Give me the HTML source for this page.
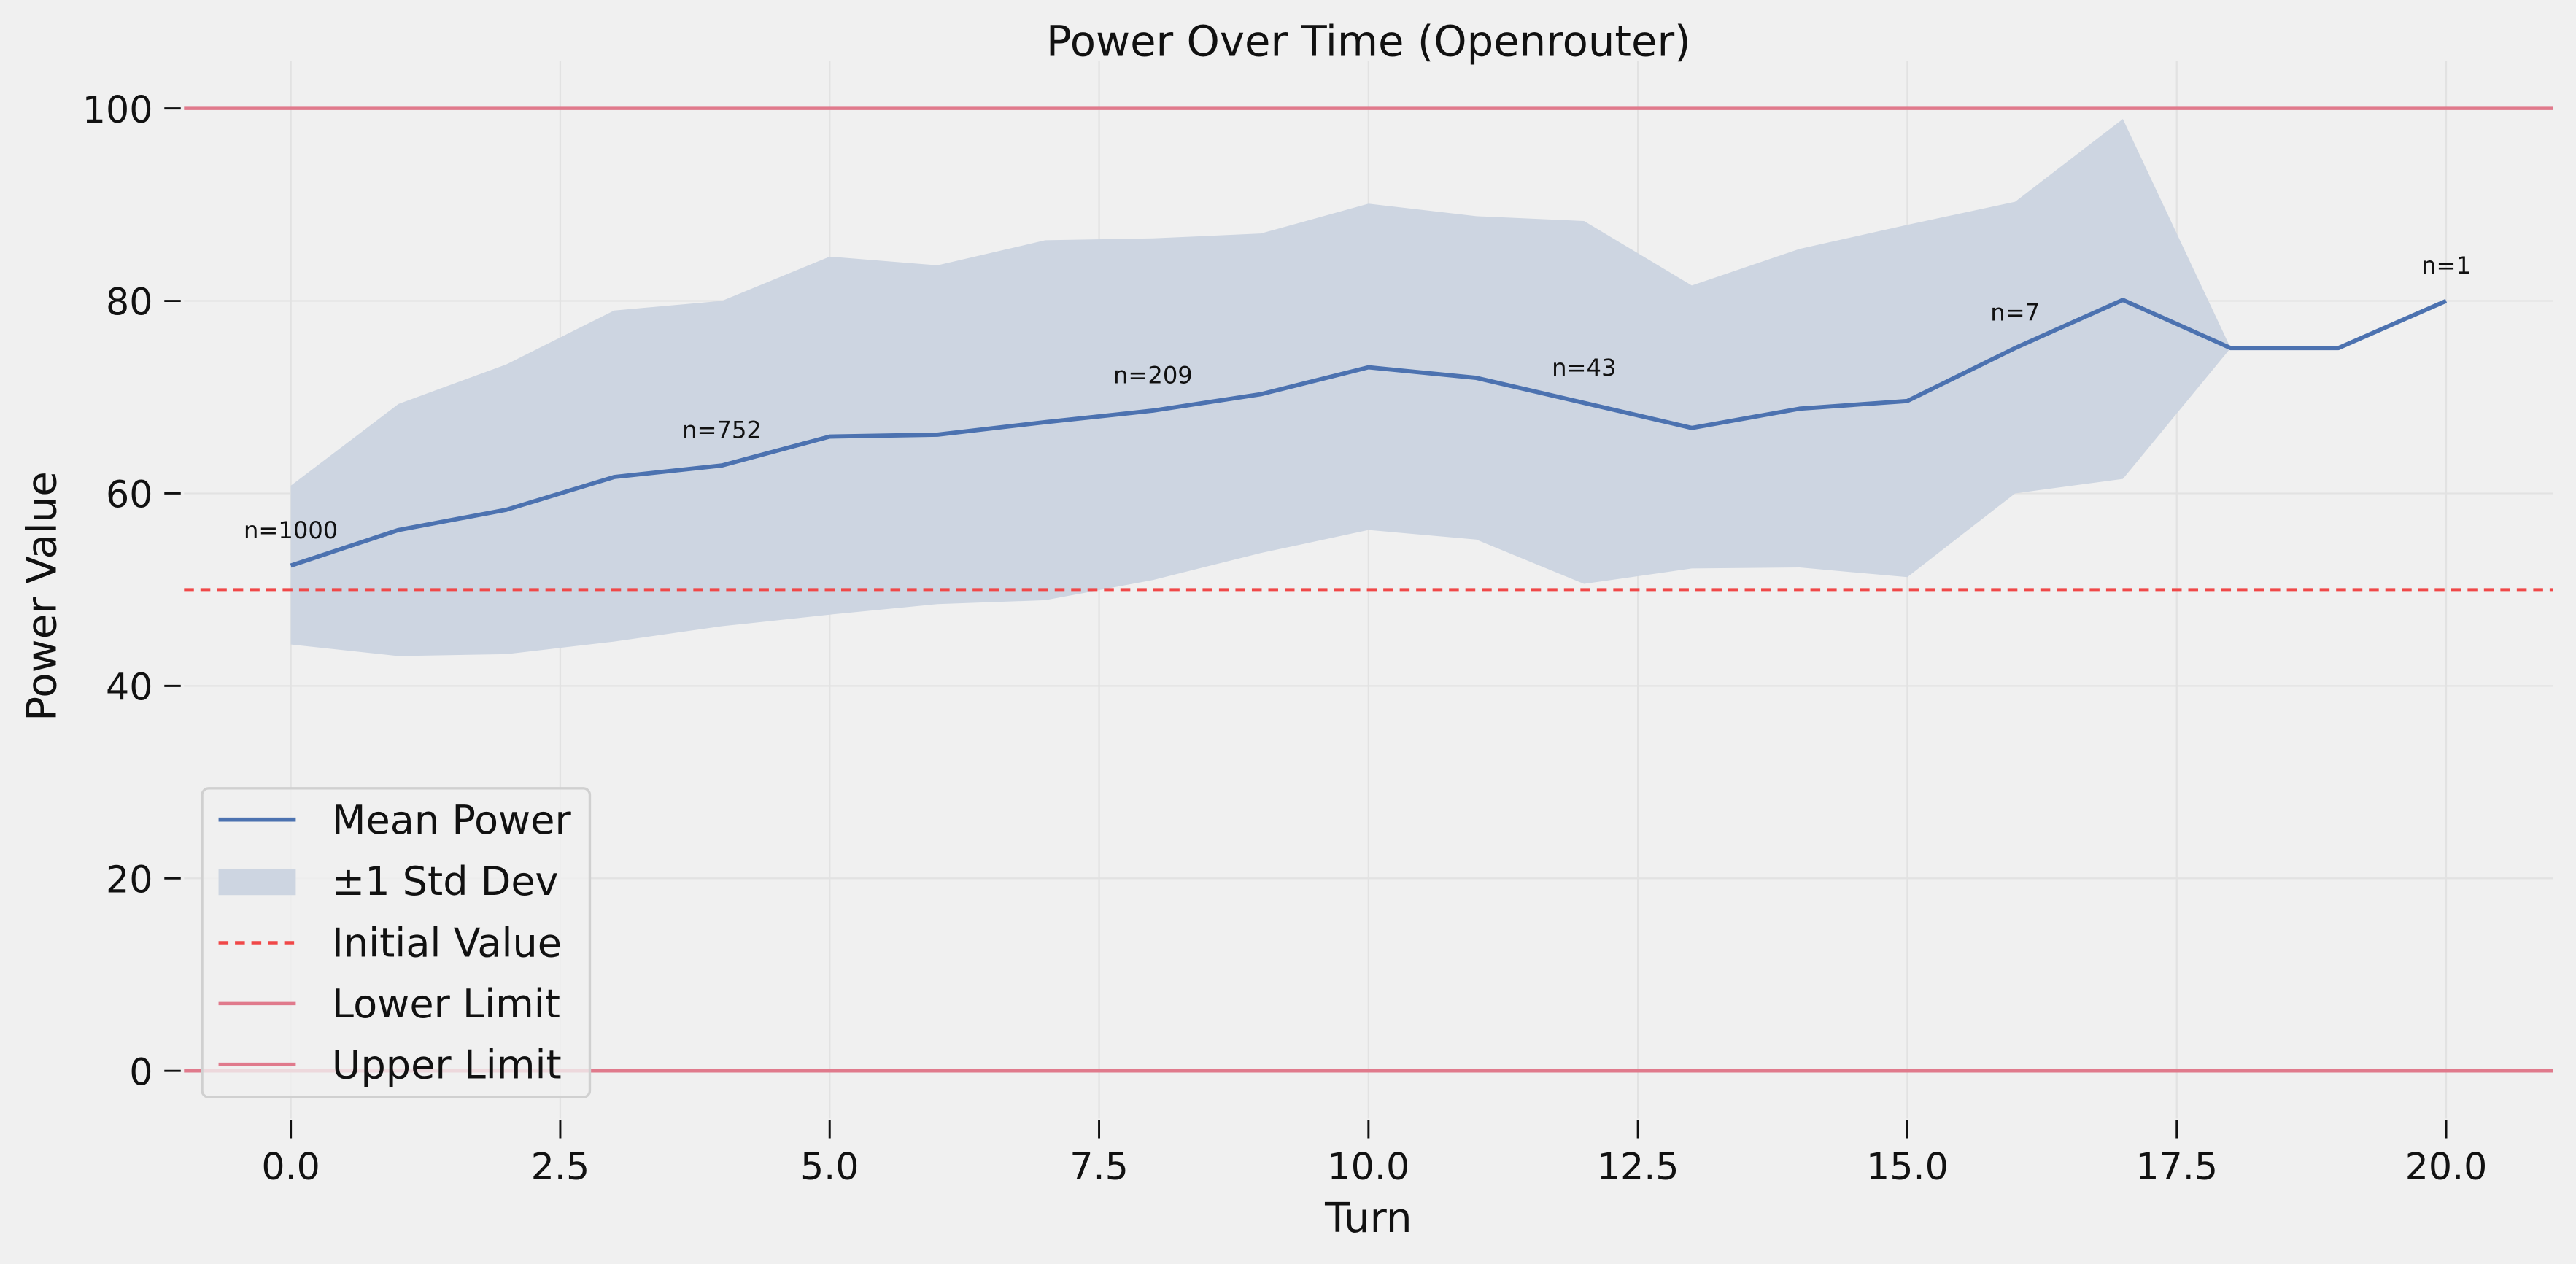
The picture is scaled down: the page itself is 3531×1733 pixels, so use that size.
<!DOCTYPE html>
<html><head><meta charset="utf-8"><style>
html,body{margin:0;padding:0;background:#f0f0f0;}
svg{display:block;font-family:"DejaVu Sans","Liberation Sans",sans-serif;}
</style></head><body>
<svg id="chart" width="3531" height="1733" viewBox="0 0 1568 769.6" xmlns="http://www.w3.org/2000/svg">
<rect x="0" y="0" width="1568" height="769.6" fill="#f0f0f0"/>
<g id="grid"></g>
<g id="band"></g>
<g id="lines"></g>
<g id="series"></g>
<g id="ann"></g>
<g id="axes"></g>
<text x="833" y="34" font-size="25.6" text-anchor="middle" fill="#111">Power Over Time (Openrouter)</text>
<text x="833" y="750" font-size="25" text-anchor="middle" fill="#111">Turn</text>
<text x="0" y="0" font-size="25" text-anchor="middle" fill="#111" transform="translate(34,363) rotate(-90)">Power Value</text>
<g>
<rect x="123" y="480" width="236" height="188" rx="4" fill="#f0f0f0" fill-opacity="0.8" stroke="#d0d0d0" stroke-width="1.5"/>
<g><line x1="133" y1="499" x2="180" y2="499" stroke="#4c72b0" stroke-width="2.5"/><text x="202" y="507.5" font-size="24" fill="#111">Mean Power</text></g>
<g><rect x="133" y="529" width="47" height="16" fill="#cdd5e1"/><text x="202" y="545" font-size="24" fill="#111">±1 Std Dev</text></g>
<g><line x1="133" y1="574" x2="180" y2="574" stroke="#f04848" stroke-width="2" stroke-dasharray="6,4"/><text x="202" y="582.5" font-size="24" fill="#111">Initial Value</text></g>
<g><line x1="133" y1="611" x2="180" y2="611" stroke="#e07a8c" stroke-width="2"/><text x="202" y="619.5" font-size="24" fill="#111">Lower Limit</text></g>
<g><line x1="133" y1="648" x2="180" y2="648" stroke="#e07a8c" stroke-width="2"/><text x="202" y="656.5" font-size="24" fill="#111">Upper Limit</text></g>
</g>
</svg>
<script>
const turns=[0,1,2,3,4,5,6,7,8,9,10,11,12,13,14,15,16,17,18,19,20];
const meanVals=[52.5,56.2,58.3,61.7,62.9,65.9,66.1,67.4,68.6,70.3,73.1,72.0,69.4,66.8,68.8,69.6,75.1,80.1,75.1,75.1,80.0];
const upperVals=[60.8,69.3,73.4,79.0,80.0,84.6,83.7,86.3,86.5,87.0,90.1,88.8,88.3,81.6,85.4,87.9,90.3,98.9,75.1];
const lowerVals=[44.3,43.1,43.3,44.6,46.2,47.4,48.5,48.9,51.0,53.8,56.2,55.2,50.6,52.2,52.3,51.3,60.0,61.5,75.1];
const annTurns=[0,4,8,12,16,20];
const annLabels=["n=1000","n=752","n=209","n=43","n=7","n=1"];
const xTicks=[0,2.5,5,7.5,10,12.5,15,17.5,20];
const yTicks=[0,20,40,60,80,100];
const initialValue=50, lowerLimit=0, upperLimit=100;
const NS="http://www.w3.org/2000/svg";
const X=v=>177+v*65.6;
const Y=v=>652-v*5.86;
function mk(tag,attrs,parent){const e=document.createElementNS(NS,tag);for(const k in attrs)e.setAttribute(k,attrs[k]);document.getElementById(parent).appendChild(e);return e;}
xTicks.forEach(t=>{
 const g=mk('line',{x1:X(t),x2:X(t),y1:37,y2:681,stroke:'#e2e2e2','stroke-width':1},'grid');
 
 
 const tk=mk('line',{x1:X(t),x2:X(t),y1:682,y2:693,stroke:'#111','stroke-width':1.3},'axes');
 
 
 const tx=mk('text',{x:X(t),y:718,'font-size':22.5,'text-anchor':'middle',fill:'#111'},'axes');
 tx.textContent=t.toFixed(1);
 
 
});
yTicks.forEach(t=>{
 const g=mk('line',{x1:112,x2:1554,y1:Y(t),y2:Y(t),stroke:'#e2e2e2','stroke-width':1},'grid');
 
 
 const tk=mk('line',{x1:100,x2:110,y1:Y(t),y2:Y(t),stroke:'#111','stroke-width':1.3},'axes');
 
 
 const tx=mk('text',{x:93,y:Y(t)+8.5,'font-size':22.5,'text-anchor':'end',fill:'#111'},'axes');
 tx.textContent=String(t);
 
 
});
let pts=upperVals.map((v,i)=>X(turns[i])+','+Y(v));
for(let i=lowerVals.length-1;i>=0;i--)pts.push(X(turns[i])+','+Y(lowerVals[i]));
const band=mk('polygon',{points:pts.join(' '),fill:'#cdd5e1'},'band');


[[upperLimit,'upper-limit-line'],[lowerLimit,'lower-limit-line']].forEach(([v,n])=>{
 const l=mk('line',{x1:112,x2:1554,y1:Y(v),y2:Y(v),stroke:'#e07a8c','stroke-width':2},'lines');
 
 
});
const il=mk('line',{x1:112,x2:1554,y1:Y(initialValue),y2:Y(initialValue),stroke:'#f04848','stroke-width':1.8,'stroke-dasharray':'6,4'},'lines');


const ml=mk('polyline',{points:meanVals.map((v,i)=>X(turns[i])+','+Y(v)).join(' '),fill:'none',stroke:'#4c72b0','stroke-width':2.6,'stroke-linejoin':'round'},'series');


annTurns.forEach((t,i)=>{
 const tx=mk('text',{x:X(t),y:Y(meanVals[t]+3.7)+5,'font-size':14.3,'text-anchor':'middle',fill:'#111'},'ann');
 tx.textContent=annLabels[i];
 
 
});
</script>
</body></html>
